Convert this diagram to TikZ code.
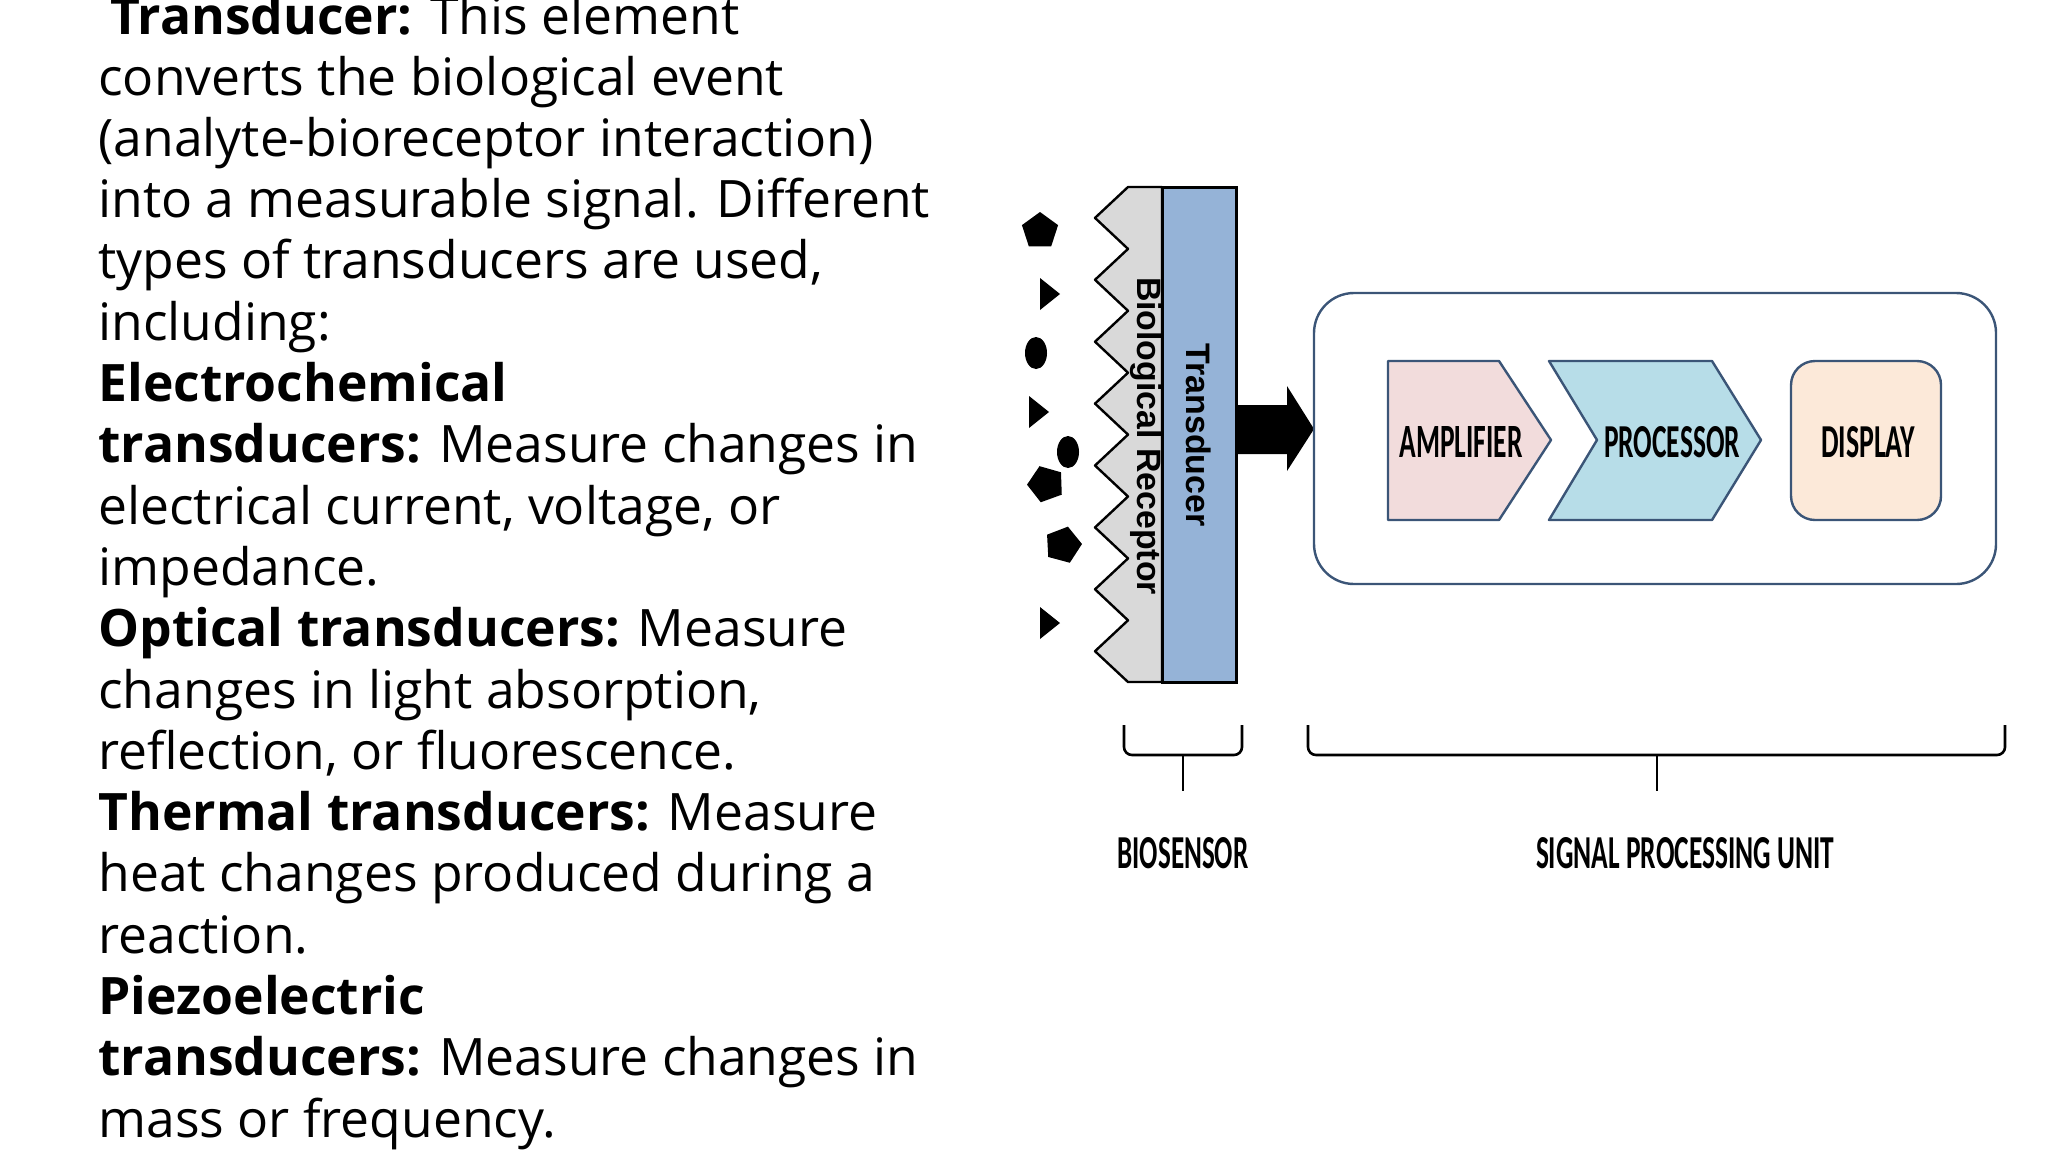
\documentclass[tikz,border=0pt]{standalone}
\usepackage{fontspec}
\setmainfont{Open Sans}
\newfontfamily\lib{Liberation Sans}
\newfontfamily\carl{Carlito}
\usetikzlibrary{shapes.geometric}
\definecolor{edge}{HTML}{3B5577}
\definecolor{amp}{HTML}{F2DCDC}
\definecolor{proc}{HTML}{B7DDE8}
\definecolor{disp}{HTML}{FCE9D9}
\definecolor{trans}{HTML}{95B3D7}
\definecolor{recep}{HTML}{D9D9D9}
\begin{document}
\begin{tikzpicture}[x=0.5pt,y=-0.5pt,
  body/.style={anchor=base west,inner sep=0pt,font=\fontsize{25.8}{30}\selectfont},
  blk/.style={draw=edge,line width=1.2pt,line join=round},
  lab/.style={inner sep=0pt},
  mol/.style={fill=black,draw=none,inner sep=0pt}]
\useasboundingbox (0,0) rectangle (2048,1152);
% left text
\node[body] (l0) at (110,34) {\textbf{Transducer:} This element};
\foreach \i/\t in {1/{converts the biological event},2/{(analyte-bioreceptor interaction)},3/{into a measurable signal. Different},4/{types of transducers are used,},5/{including:},6/{\textbf{Electrochemical}},7/{\textbf{transducers:} Measure changes in},8/{electrical current, voltage, or},9/{impedance.},10/{\textbf{Optical transducers:} Measure},11/{changes in light absorption,},12/{reflection, or fluorescence.},13/{\textbf{Thermal transducers:} Measure},14/{heat changes produced during a},15/{reaction.},16/{\textbf{Piezoelectric}},17/{\textbf{transducers:} Measure changes in},18/{mass or frequency.}}
  \node[body] (l\i) at (98,{95+61.3*(\i-1)}) {\t};
% receptor with teeth
\draw[blk,draw=black,fill=recep] (1128,187) -- (1162,187) -- (1162,682) -- (1128,682)
  \foreach \k in {7,...,0} { -- (1095,{187+61.9*\k+30.9}) -- (1128,{187+61.9*\k}) } -- cycle;
\draw[draw=black,line width=1.5pt,fill=trans] (1162,187) rectangle (1236,682);
\node[lab,rotate=-90] (rec) at (1146,436) {\resizebox{159pt}{!}{\lib\bfseries Biological Receptor}};
\node[lab,rotate=-90] (tra) at (1199,435) {\resizebox{91.5pt}{!}{\lib\bfseries Transducer}};
% arrow
\fill (1236,405) -- (1287,405) -- (1287,386) -- (1314,429) -- (1287,471) -- (1287,454) -- (1236,454) -- cycle;
% analytes
\node[mol,regular polygon,regular polygon sides=5,minimum size=19pt] (p1) at (1040,231) {};
\node[mol,regular polygon,regular polygon sides=5,minimum size=19pt,rotate=20] (p2) at (1046,484) {};
\node[mol,regular polygon,regular polygon sides=5,minimum size=19pt,rotate=-15] (p3) at (1063,545) {};
\node[mol,ellipse,minimum width=11pt,minimum height=16pt] (c1) at (1036,353) {};
\node[mol,ellipse,minimum width=11pt,minimum height=16pt] (c2) at (1068,452) {};
\foreach \n/\x/\y in {t1/1050/294,t2/1039/412,t3/1050/623}
  \fill (\x-10,\y-16) -- (\x+10,\y) -- (\x-10,\y+16) -- cycle;
% signal processing unit
\draw[blk,rounded corners=20pt] (1314,293) rectangle (1996,584);
\draw[blk,fill=amp] (1388,361) -- (1499,361) -- (1551,440) -- (1499,520) -- (1388,520) -- cycle;
\draw[blk,fill=proc] (1549,361) -- (1712,361) -- (1761,440) -- (1712,520) -- (1549,520) -- (1597,440) -- cycle;
\draw[blk,fill=disp,rounded corners=12pt] (1791,361) rectangle (1941,520);
\node[lab] (amp) at (1461,442) {\resizebox{61.5pt}{15.5pt}{\carl\bfseries AMPLIFIER}};
\node[lab] (pro) at (1672,442) {\resizebox{68pt}{15.5pt}{\carl\bfseries PROCESSOR}};
\node[lab] (dis) at (1868,442) {\resizebox{47pt}{15.5pt}{\carl\bfseries DISPLAY}};
% brackets
\draw[line width=1.3pt,rounded corners=4pt] (1124,725) -- (1124,755) -- (1242,755) -- (1242,725);
\draw[line width=1.3pt] (1183,755) -- (1183,791);
\draw[line width=1.3pt,rounded corners=4pt] (1308,725) -- (1308,755) -- (2005,755) -- (2005,725);
\draw[line width=1.3pt] (1657,755) -- (1657,791);
\node[lab] (bio) at (1183,853) {\resizebox{65.5pt}{15.5pt}{\carl\bfseries BIOSENSOR}};
\node[lab] (spu) at (1685,853) {\resizebox{149pt}{15.5pt}{\carl\bfseries SIGNAL PROCESSING UNIT}};
\end{tikzpicture}
\end{document}
